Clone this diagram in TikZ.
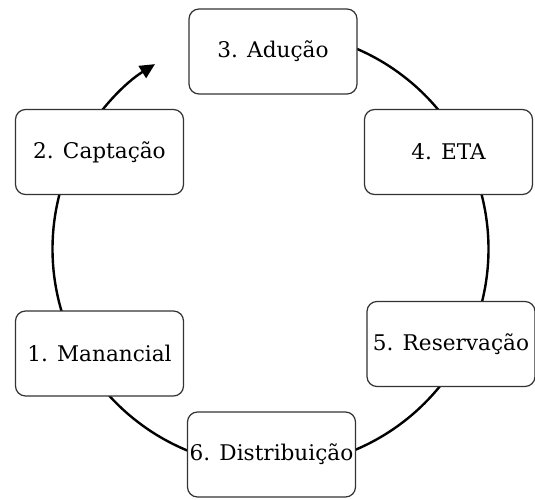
\documentclass[tikz,border=0pt]{standalone}
\usepackage{fontspec}
\setmainfont{DejaVu Serif}
\usetikzlibrary{arrows.meta}
\tikzset{
  etapa/.style={draw=black!80, line width=1.2pt, fill=white, rounded corners=10pt,
    minimum width=168pt, minimum height=85pt, inner sep=0pt,
    font=\fontsize{21.6}{26}\selectfont},
  ciclo/.style={line width=2.4pt}
}
\begin{document}
\begin{tikzpicture}[x=1pt,y=1pt]
  \useasboundingbox (0,0) rectangle (535,499);
  \coordinate (centro) at (270.5,250);
  \def\raio{218}
  \foreach \ang/\nome in {210/a1,150/a2,90/a3,30/a4,-30/a5,-90/a6}
    \path (centro) ++(\ang:\raio) coordinate (\nome);

  \draw[ciclo] (a1) arc[start angle=210, end angle=150, radius=\raio];
  \draw[ciclo, -{Triangle[length=15pt,width=14pt]}] (a2) arc[start angle=150, end angle=122, radius=\raio];
  \draw[ciclo] (a3) arc[start angle=90, end angle=30, radius=\raio];
  \draw[ciclo] (a4) arc[start angle=30, end angle=-30, radius=\raio];
  \draw[ciclo] (a5) arc[start angle=-30, end angle=-90, radius=\raio];
  \draw[ciclo] (a6) arc[start angle=-90, end angle=-150, radius=\raio];

  \node[etapa] (manancial) at (99.5,145.5) {1. Manancial};
  \node[etapa] (captacao) at (99.5,347) {2. Captação};
  \node[etapa] (aducao) at (273,447.5) {3. Adução};
  \node[etapa] (eta) at (448.5,347) {4. ETA};
  \node[etapa] (reservacao) at (451,155) {5. Reservação};
  \node[etapa] (distribuicao) at (271.5,44.5) {6. Distribuição};
\end{tikzpicture}
\end{document}
